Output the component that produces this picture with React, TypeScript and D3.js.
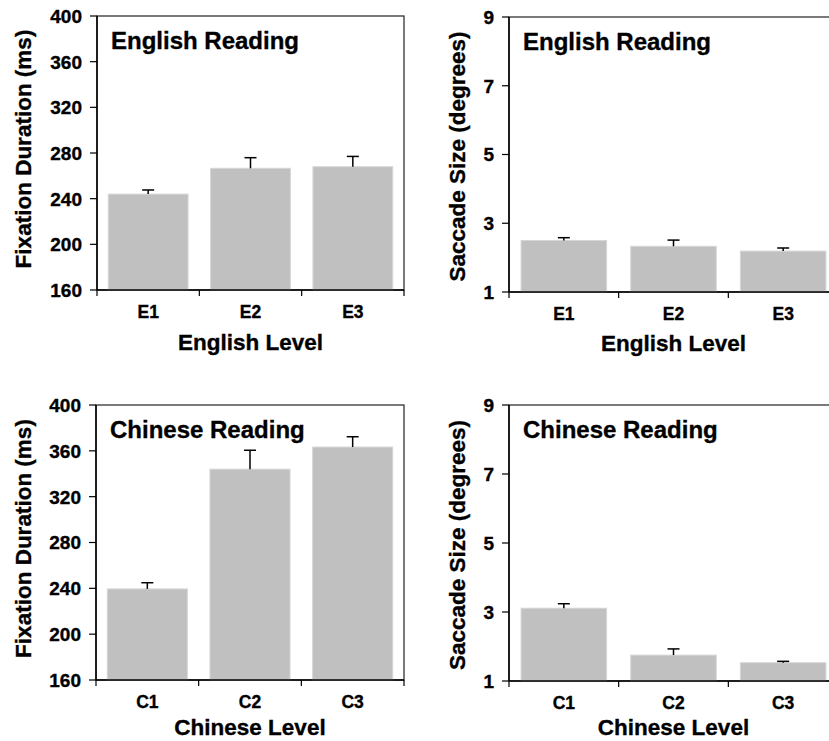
import React from "react";
import * as d3 from "d3";

const englishLevels = ["E1", "E2", "E3"];
const chineseLevels = ["C1", "C2", "C3"];

const englishFixation = [244, 266.6, 268];
const englishFixationErr = [3.6, 9.3, 9];
const chineseFixation = [239.5, 344, 363.3];
const chineseFixationErr = [5.4, 16.5, 9];

const englishSaccade = [2.5, 2.33, 2.19];
const englishSaccadeErr = [0.08, 0.18, 0.09];
const chineseSaccade = [3.11, 1.75, 1.53];
const chineseSaccadeErr = [0.13, 0.18, 0.04];

const fixationTicks = [160, 200, 240, 280, 320, 360, 400];
const saccadeTicks = [1, 3, 5, 7, 9];

const FONT = "'Liberation Sans', Arial, Helvetica, sans-serif";

type PanelProps = {
  x0: number;
  x1: number;
  y0: number;
  y1: number;
  cats: string[];
  values: number[];
  errs: number[];
  domain: [number, number];
  ticks: number[];
  title: string;
  yTitle: string;
  xTitle: string;
  yTitleX: number;
  yTitleShift: number;
  xTitleY: number;
};

const heavy = { stroke: "#000", strokeWidth: 0.35 };

function Panel(p: PanelProps) {
  const x = d3
    .scaleBand<string>()
    .domain(p.cats)
    .range([p.x0, p.x1])
    .paddingInner(0.22)
    .paddingOuter(0.11);
  const y = d3.scaleLinear().domain(p.domain).range([p.y1, p.y0]);
  const bounds = d3.range(p.cats.length + 1).map((i) => p.x0 + i * ((p.x1 - p.x0) / p.cats.length));
  const midY = (p.y0 + p.y1) / 2 + p.yTitleShift;
  return (
    <g>
      <rect x={p.x0} y={p.y0} width={p.x1 - p.x0} height={p.y1 - p.y0} fill="none" stroke="#222" strokeWidth={1.2} />
      {p.cats.map((c, i) => {
        const bx = x(c)!;
        const cx = bx + x.bandwidth() / 2;
        const top = y(p.values[i] + p.errs[i]);
        return (
          <g key={c}>
            <rect
              x={bx}
              y={y(p.values[i])}
              width={x.bandwidth()}
              height={p.y1 - y(p.values[i])}
              fill="#c0c0c0"
              stroke="#d6d6d6"
              strokeWidth={1}
            />
            <line x1={cx} x2={cx} y1={y(p.values[i])} y2={top} stroke="#000" strokeWidth={1.5} />
            <line x1={cx - 6} x2={cx + 6} y1={top} y2={top} stroke="#000" strokeWidth={1.5} />
            <text x={cx} y={p.y1 + 28} textAnchor="middle" fontFamily={FONT} fontWeight="bold" fontSize={17.5} fill="#000" {...heavy}>
              {c}
            </text>
          </g>
        );
      })}
      <line x1={p.x0} x2={p.x1} y1={p.y1} y2={p.y1} stroke="#000" strokeWidth={1.5} />
      <line x1={p.x0} x2={p.x0} y1={p.y0} y2={p.y1} stroke="#000" strokeWidth={1.5} />
      {bounds.map((bx, i) => (
        <line key={i} x1={bx} x2={bx} y1={p.y1} y2={p.y1 + 6} stroke="#000" strokeWidth={1.2} />
      ))}
      {p.ticks.map((t) => (
        <g key={t}>
          <line x1={p.x0 - 7} x2={p.x0} y1={y(t)} y2={y(t)} stroke="#000" strokeWidth={1.2} />
          <text x={p.x0 - 15} y={y(t)} dy="0.36em" textAnchor="end" fontFamily={FONT} fontWeight="bold" fontSize={19} fill="#000" {...heavy}>
            {t}
          </text>
        </g>
      ))}
      <text x={p.x0 + 14} y={p.y0 + 33} fontFamily={FONT} fontWeight="bold" fontSize={24} fill="#000" {...heavy}>
        {p.title}
      </text>
      <text
        x={(p.x0 + p.x1) / 2}
        y={p.xTitleY}
        textAnchor="middle"
        fontFamily={FONT}
        fontWeight="bold"
        fontSize={22.5}
        fill="#000"
        {...heavy}
      >
        {p.xTitle}
      </text>
      <text
        transform={`translate(${p.yTitleX},${midY}) rotate(-90)`}
        textAnchor="middle"
        fontFamily={FONT}
        fontWeight="bold"
        fontSize={22.5}
        fill="#000"
        {...heavy}
      >
        {p.yTitle}
      </text>
    </g>
  );
}

export default function App() {
  return (
    <svg
      width={829}
      height={741}
      style={{ position: "absolute", left: 0, top: 0, background: "#fff" }}
    >
      <rect width={829} height={741} fill="#fff" />
      <Panel
        x0={97}
        x1={404}
        y0={16}
        y1={290}
        cats={englishLevels}
        values={englishFixation}
        errs={englishFixationErr}
        domain={[160, 400]}
        ticks={fixationTicks}
        title="English Reading"
        yTitle="Fixation Duration (ms)"
        xTitle="English Level"
        yTitleX={31}
        yTitleShift={-4}
        xTitleY={350}
      />
      <Panel
        x0={509}
        x1={838}
        y0={17}
        y1={292}
        cats={englishLevels}
        values={englishSaccade}
        errs={englishSaccadeErr}
        domain={[1, 9]}
        ticks={saccadeTicks}
        title="English Reading"
        yTitle="Saccade Size (degrees)"
        xTitle="English Level"
        yTitleX={465}
        yTitleShift={2}
        xTitleY={351}
      />
      <Panel
        x0={96}
        x1={404}
        y0={405}
        y1={680}
        cats={chineseLevels}
        values={chineseFixation}
        errs={chineseFixationErr}
        domain={[160, 400]}
        ticks={fixationTicks}
        title="Chinese Reading"
        yTitle="Fixation Duration (ms)"
        xTitle="Chinese Level"
        yTitleX={31}
        yTitleShift={-4}
        xTitleY={735}
      />
      <Panel
        x0={509}
        x1={838}
        y0={405}
        y1={681}
        cats={chineseLevels}
        values={chineseSaccade}
        errs={chineseSaccadeErr}
        domain={[1, 9]}
        ticks={saccadeTicks}
        title="Chinese Reading"
        yTitle="Saccade Size (degrees)"
        xTitle="Chinese Level"
        yTitleX={465}
        yTitleShift={2}
        xTitleY={735}
      />
    </svg>
  );
}
